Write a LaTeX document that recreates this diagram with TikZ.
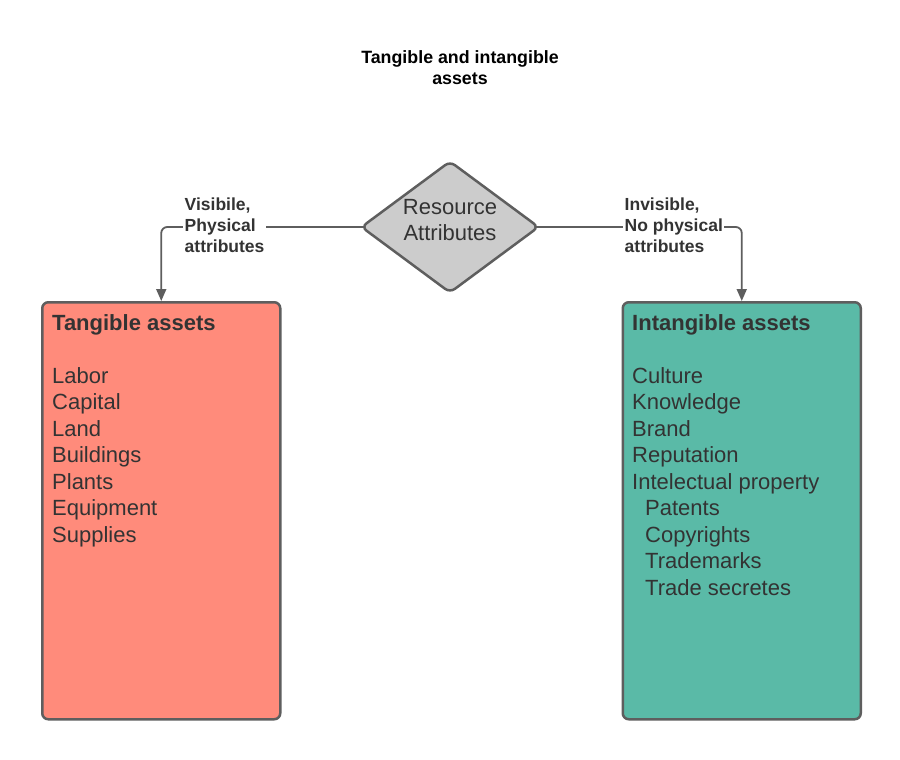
\documentclass[tikz,border=0pt]{standalone}
\usepackage{fontspec}
\setmainfont{Liberation Sans}
\usetikzlibrary{shapes.geometric,arrows.meta}
\pgfdeclarelayer{bg}
\pgfsetlayers{bg,main}
\definecolor{edgegray}{HTML}{5E5E5E}
\definecolor{txtgray}{HTML}{333333}
\definecolor{salmon}{HTML}{FF8B7B}
\definecolor{teal}{HTML}{5ABAA7}
\definecolor{diagray}{HTML}{CCCCCC}
\tikzset{
  assetbox/.style={draw=edgegray, line width=2.5pt, rounded corners=6pt, minimum width=238pt, minimum height=417pt, anchor=north west, inner sep=0pt},
  boxtext/.style={anchor=north west, inner sep=0pt, align=left, text=txtgray, font=\fontsize{22pt}{26.5pt}\selectfont},
  conn/.style={draw=edgegray, line width=1.8pt, rounded corners=6pt, -{Triangle[length=12pt,width=10pt]}},
  connlabel/.style={fill=white, inner sep=1.5pt, anchor=west, align=left, text=txtgray, font=\fontsize{17.5pt}{21pt}\selectfont\bfseries},
}
\begin{document}
\begin{tikzpicture}[x=1pt,y=-1pt]
\useasboundingbox (0,0) rectangle (900,760);
\begin{pgfonlayer}{bg}
\fill[white] (0,0) rectangle (900,760);
\end{pgfonlayer}

\node[align=center, font=\fontsize{17.8pt}{21pt}\selectfont\bfseries] (title) at (460,68) {Tangible and intangible\\assets};

\node[assetbox, fill=salmon] (lbox) at (41,301) {};
\node[assetbox, fill=teal] (rbox) at (621.5,301) {};

\node[diamond, draw=edgegray, fill=diagray, line width=2.5pt, rounded corners=6pt, minimum width=178pt, minimum height=132pt, inner sep=0pt] (ra) at (450,227) {};
\node[align=center, text=txtgray, font=\fontsize{22pt}{26pt}\selectfont] (ratext) at (450,220) {Resource\\Attributes};

\begin{pgfonlayer}{bg}
\draw[conn] ([xshift=8pt]ra.west) -| (lbox.north);
\draw[conn] ([xshift=-8pt]ra.east) -| (rbox.north);
\end{pgfonlayer}

\node[connlabel] (llabel) at (183,225.5) {Visibile,\\Physical\\attributes};
\node[connlabel] (rlabel) at (623,225.5) {Invisible,\\No physical\\attributes};

\node[boxtext] (ltext) at (52,314) {\textbf{Tangible assets}\\[26.5pt]Labor\\Capital\\Land\\Buildings\\Plants\\Equipment\\Supplies};
\node[boxtext] (rtext) at (632,314) {\textbf{Intangible assets}\\[26.5pt]Culture\\Knowledge\\Brand\\Reputation\\Intelectual property\\\hspace*{13pt}Patents\\\hspace*{13pt}Copyrights\\\hspace*{13pt}Trademarks\\\hspace*{13pt}Trade secretes};
\end{tikzpicture}
\end{document}
